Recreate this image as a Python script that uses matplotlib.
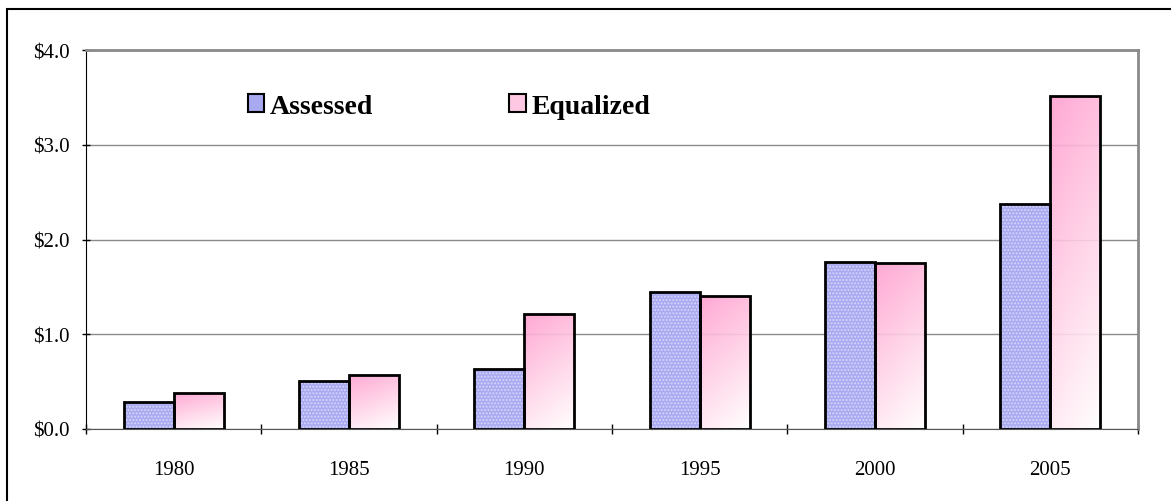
import numpy as np
import matplotlib
matplotlib.use("Agg")
import matplotlib.pyplot as plt
from matplotlib.patches import Rectangle, Patch
from matplotlib.colors import LinearSegmentedColormap

years = ["1980", "1985", "1990", "1995", "2000", "2005"]
assessed = [0.29, 0.51, 0.63, 1.45, 1.76, 2.37]
equalized = [0.38, 0.57, 1.21, 1.40, 1.75, 3.51]
yticks = [0.0, 1.0, 2.0, 3.0, 4.0]

plt.rcParams['font.family'] = ['Liberation Serif', 'DejaVu Serif']

fig = plt.figure(figsize=(11.71, 5.02), dpi=100)
ax = fig.add_axes([86/1171, 1 - 430/502, (1138 - 86)/1171, (430 - 51)/502])

x = np.arange(len(years))
w = 0.285

# assessed: dotted lavender
ax.bar(x - w/2, assessed, w, color='#a9a9f2', edgecolor='#d6d6fb', hatch='.....', linewidth=0, zorder=2)
ax.bar(x - w/2, assessed, w, fill=False, edgecolor='black', linewidth=2, zorder=4)

# equalized: pink gradient
pink = LinearSegmentedColormap.from_list('pk', ['#ffffff', '#ffd0e6', '#ff9fcf'])
gy, gx = np.mgrid[0:1:100j, 0:1:40j]
grad = 0.75 * gy + 0.25 * (1 - gx)
bars_e = ax.bar(x + w/2, equalized, w, color='none', edgecolor='black', linewidth=2, zorder=4)
for b in bars_e:
    x0, y0 = b.get_x(), b.get_y()
    im = ax.imshow(grad, cmap=pink, origin='lower', aspect='auto', alpha=0.9,
                   extent=[x0, x0 + b.get_width(), y0, y0 + b.get_height()], zorder=3)
    im.set_clip_path(b)

ax.set_xlim(-0.5, len(years) - 0.5)
ax.set_ylim(0, 4.0)
ax.set_yticks(yticks)
ax.set_yticklabels(["\\$%.1f" % v for v in yticks], fontsize=15)
ax.set_xticks(x)
ax.set_xticklabels(years, fontsize=15)
ax.set_xticks(np.arange(len(years) + 1) - 0.5, minor=True)
ax.tick_params(axis='x', which='major', length=0, pad=22)
ax.tick_params(axis='x', which='minor', length=7, width=1, direction='inout')
ax.tick_params(axis='y', length=6, width=1, direction='inout', pad=9)
ax.yaxis.grid(True, color='#8a8a8a', linewidth=1, zorder=1)
ax.set_axisbelow(True)

for s in ['top', 'right']:
    ax.spines[s].set_color('#8a8a8a')
    ax.spines[s].set_linewidth(2)
ax.spines['left'].set_color('black')
ax.spines['bottom'].set_color('#555555')

handles = [Patch(facecolor='#a9a9f2', edgecolor='black', linewidth=1.5),
           Patch(facecolor='#ffc8e2', edgecolor='black', linewidth=1.5)]
ax.legend(handles, ["Assessed", "Equalized"], ncol=2, frameon=False,
          loc='upper left', bbox_to_anchor=(0.13, 0.95), handlelength=0.6, handleheight=0.6,
          handletextpad=0.2, columnspacing=4.9,
          prop={'weight': 'bold', 'size': 20})

fig.patches.append(Rectangle((7/1171, -0.1), 2, 1.1 - 10/502, transform=fig.transFigure,
                             fill=False, edgecolor='black', linewidth=1.5))

fig.savefig("out.png", dpi=100)
